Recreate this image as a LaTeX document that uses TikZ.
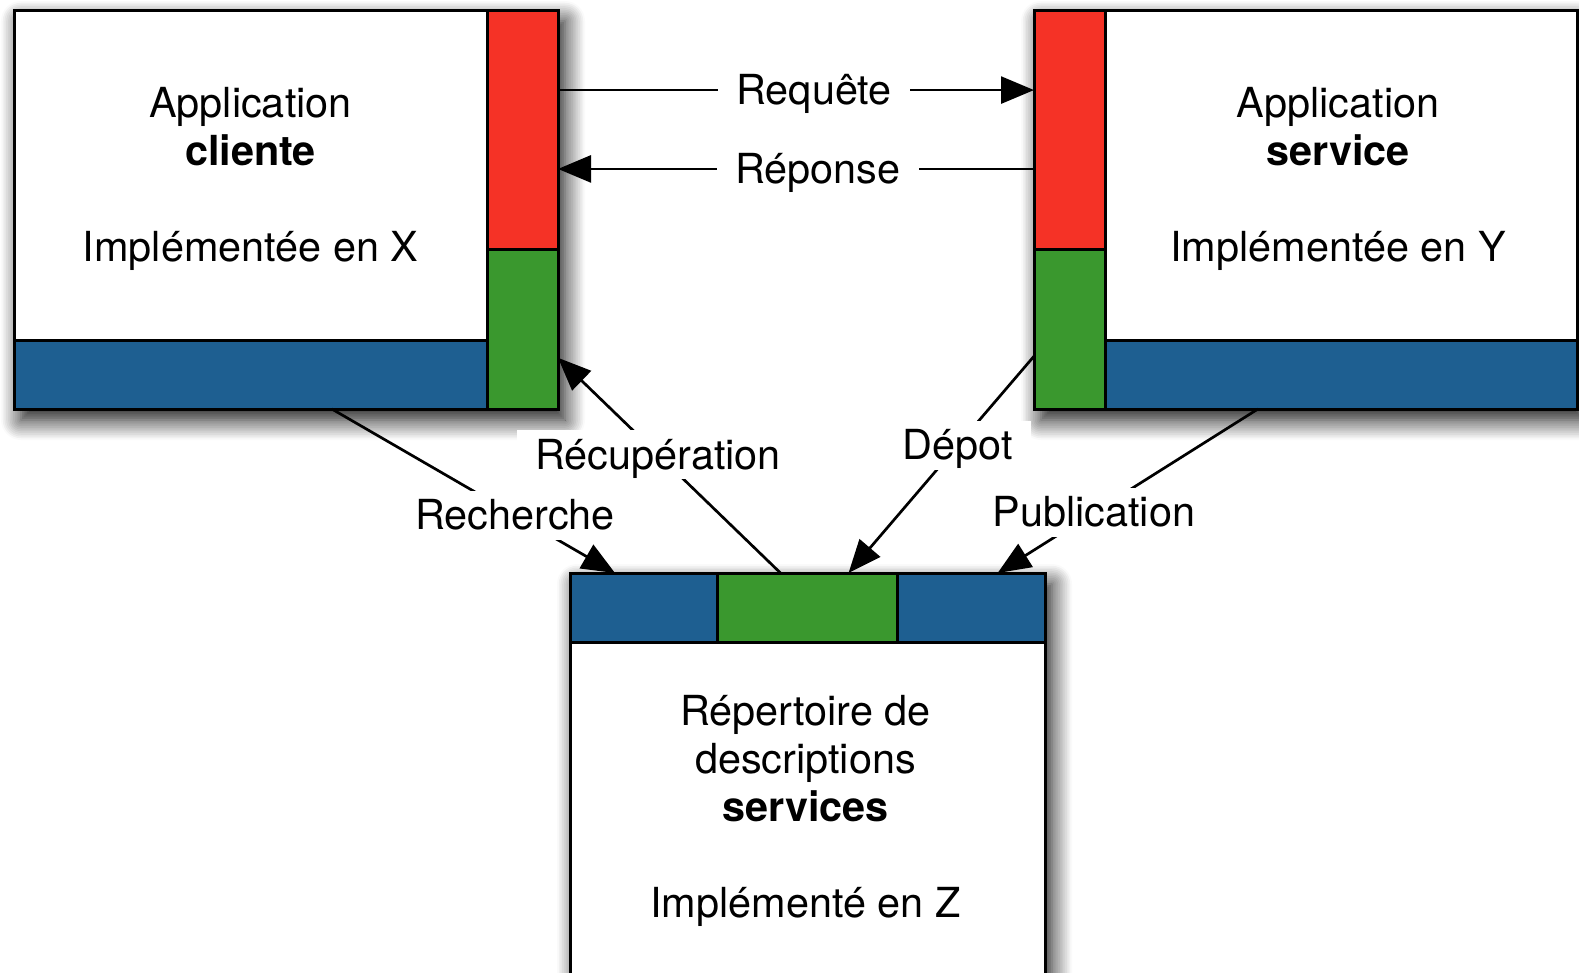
\documentclass[tikz,border=0pt]{standalone}
\usepackage{fontspec}
\setmainfont{TeX Gyre Heros}
\usetikzlibrary{arrows.meta,calc,positioning,shadows.blur}

\definecolor{rouge}{RGB}{245,50,38}
\definecolor{vert}{RGB}{58,152,46}
\definecolor{bleu}{RGB}{30,95,145}
\newcommand{\police}{\fontsize{41.4}{48}\selectfont}

\begin{document}
\begin{tikzpicture}[x=1pt, y=-1pt,
  bloc/.style={draw, line width=3pt, fill=white, anchor=north west, outer sep=0pt, inner sep=0pt,
    blur shadow={shadow xshift=7pt, shadow yshift=-11pt, shadow blur radius=20pt, shadow blur steps=12, shadow opacity=95}},
  partie/.style={draw, line width=3pt, anchor=north west, outer sep=0pt, inner sep=0pt},
  texte/.style={align=center, font=\police},
  fleche/.style={line width=2.7pt, -{Triangle[length=33pt,width=27pt]}},
  etiq/.style={fill=white, inner xsep=18pt, inner ysep=5pt, text height=34pt, text depth=5pt, font=\police}
]
\useasboundingbox (0,0) rectangle (1579,972);

% Application cliente
\node[bloc, minimum width=544pt, minimum height=399pt] (cliBox) at (14,10) {};
\node[partie, fill=rouge, minimum width=71pt, minimum height=239pt, anchor=north east] (cliReq) at (cliBox.north east) {};
\node[partie, fill=vert, minimum width=71pt, minimum height=160pt, below=0pt of cliReq] (cliDesc) {};
\node[partie, fill=bleu, minimum width=473pt, minimum height=69pt, anchor=south west] (cliBand) at (cliBox.south west) {};
\node[texte] (cliTxt) at ($(cliBox.north west)!.5!(cliBand.north east)+(0,4)$) {Application\\\textbf{cliente}\\[48pt]Implémentée en X};

% Application service
\node[bloc, minimum width=543pt, minimum height=399pt] (srvBox) at (1034,10) {};
\node[partie, fill=rouge, minimum width=71pt, minimum height=239pt] (srvReq) at (srvBox.north west) {};
\node[partie, fill=vert, minimum width=71pt, minimum height=160pt, below=0pt of srvReq] (srvDesc) {};
\node[partie, fill=bleu, minimum width=472pt, minimum height=69pt, anchor=south east] (srvBand) at (srvBox.south east) {};
\node[texte] (srvTxt) at ($(srvReq.north east)!.5!(srvBand.north east)+(-3,4)$) {Application\\\textbf{service}\\[48pt]Implémentée en Y};

% Repertoire
\node[bloc, minimum width=475pt, minimum height=430pt] (repBox) at (570,573) {};
\node[partie, fill=bleu, minimum width=147pt, minimum height=69pt] (repLeft) at (repBox.north west) {};
\node[partie, fill=vert, minimum width=180pt, minimum height=69pt, anchor=north] (repDesc) at (repBox.north) {};
\node[partie, fill=bleu, minimum width=148pt, minimum height=69pt, anchor=north east] (repRight) at (repBox.north east) {};
\node[texte] (repTxt) at ($(repLeft.south west)!.5!(repRight.south east)+(-2,169)$) {Répertoire de\\descriptions\\\textbf{services}\\[48pt]Implémenté en Z};

% Echanges
\draw[fleche] ($(cliReq.north east)!.335!(cliReq.south east)$) -- node[etiq, pos=.538] {Requête} ($(srvReq.north west)!.335!(srvReq.south west)$);
\draw[fleche] ($(srvReq.north west)!.665!(srvReq.south west)$) -- node[etiq, pos=.454] {Réponse} ($(cliReq.north east)!.665!(cliReq.south east)$);
\draw[fleche] ($(cliBand.south west)!.672!(cliBand.south east)$) -- node[etiq, pos=.647] {Recherche} ($(repLeft.north west)!.306!(repLeft.north east)$);
\draw[fleche] ($(repDesc.north west)!.35!(repDesc.north east)$) -- node[etiq, pos=.55] {Récupération} ($(cliDesc.north east)!.68!(cliDesc.south east)$);
\draw[fleche] ($(srvDesc.north west)!.67!(srvDesc.south west)$) -- node[etiq, pos=.41] {Dépot} ($(repDesc.north west)!.728!(repDesc.north east)$);
\draw[fleche] ($(srvBand.south west)!.324!(srvBand.south east)$) -- node[etiq, pos=.63] {Publication} ($(repRight.north west)!.68!(repRight.north east)$);
\end{tikzpicture}
\end{document}
